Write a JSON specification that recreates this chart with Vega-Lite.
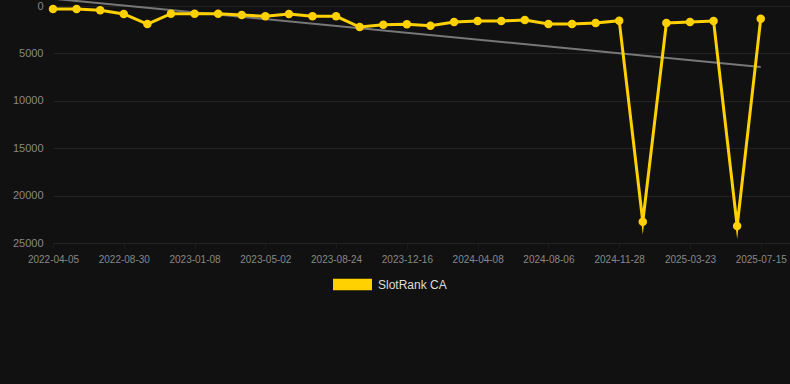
{
  "$schema": "https://vega.github.io/schema/vega-lite/v6.json",
  "autosize": {"type": "none"},
  "padding": {"left": 53, "top": 6, "right": 0, "bottom": 141},
  "width": 737,
  "height": 237,
  "background": "#111111",
  "config": {
    "view": {"stroke": null},
    "font": "Liberation Sans",
    "axis": {"gridColor": "#222222", "domain": false, "labelColor": "#888888", "labelFont": "Liberation Sans", "tickColor": "#222222"}
  },
  "datasets": {
    "rank": [
      {"date": "2022-04-05", "rank": 316, "series": "SlotRank CA"},
      {"date": "2022-05-20", "rank": 316, "series": "SlotRank CA"},
      {"date": "2022-07-10", "rank": 450, "series": "SlotRank CA"},
      {"date": "2022-08-30", "rank": 840, "series": "SlotRank CA"},
      {"date": "2022-10-15", "rank": 1900, "series": "SlotRank CA"},
      {"date": "2022-11-25", "rank": 810, "series": "SlotRank CA"},
      {"date": "2023-01-08", "rank": 810, "series": "SlotRank CA"},
      {"date": "2023-02-15", "rank": 810, "series": "SlotRank CA"},
      {"date": "2023-03-25", "rank": 950, "series": "SlotRank CA"},
      {"date": "2023-05-02", "rank": 1090, "series": "SlotRank CA"},
      {"date": "2023-06-10", "rank": 840, "series": "SlotRank CA"},
      {"date": "2023-07-18", "rank": 1090, "series": "SlotRank CA"},
      {"date": "2023-08-24", "rank": 1090, "series": "SlotRank CA"},
      {"date": "2023-10-01", "rank": 2215, "series": "SlotRank CA"},
      {"date": "2023-11-08", "rank": 1970, "series": "SlotRank CA"},
      {"date": "2023-12-16", "rank": 1930, "series": "SlotRank CA"},
      {"date": "2024-01-24", "rank": 2080, "series": "SlotRank CA"},
      {"date": "2024-03-01", "rank": 1690, "series": "SlotRank CA"},
      {"date": "2024-04-08", "rank": 1580, "series": "SlotRank CA"},
      {"date": "2024-05-18", "rank": 1580, "series": "SlotRank CA"},
      {"date": "2024-06-26", "rank": 1480, "series": "SlotRank CA"},
      {"date": "2024-08-06", "rank": 1900, "series": "SlotRank CA"},
      {"date": "2024-09-12", "rank": 1900, "series": "SlotRank CA"},
      {"date": "2024-10-20", "rank": 1790, "series": "SlotRank CA"},
      {"date": "2024-11-28", "rank": 1550, "series": "SlotRank CA"},
      {"date": "2025-01-05", "rank": 22750, "series": "SlotRank CA"},
      {"date": "2025-02-13", "rank": 1790, "series": "SlotRank CA"},
      {"date": "2025-03-23", "rank": 1690, "series": "SlotRank CA"},
      {"date": "2025-04-30", "rank": 1580, "series": "SlotRank CA"},
      {"date": "2025-06-07", "rank": 23200, "series": "SlotRank CA"},
      {"date": "2025-07-15", "rank": 1340, "series": "SlotRank CA"}
    ],
    "trend": [
      {"date": "2022-04-05", "rank": -770},
      {"date": "2025-07-15", "rank": 6435}
    ]
  },
  "encoding": {
    "x": {
      "field": "date", "type": "ordinal", "sort": null,
      "scale": {"type": "point", "padding": 0.62, "align": 0,
        "domain": ["2022-04-05","2022-05-20","2022-07-10","2022-08-30","2022-10-15","2022-11-25","2023-01-08","2023-02-15","2023-03-25","2023-05-02","2023-06-10","2023-07-18","2023-08-24","2023-10-01","2023-11-08","2023-12-16","2024-01-24","2024-03-01","2024-04-08","2024-05-18","2024-06-26","2024-08-06","2024-09-12","2024-10-20","2024-11-28","2025-01-05","2025-02-13","2025-03-23","2025-04-30","2025-06-07","2025-07-15"]},
      "axis": {
        "title": null, "labelAngle": 0, "labelFontSize": 10, "labelPadding": 6, "tickSize": 5, "gridColor": "#1c1c1c", "tickColor": "#1c1c1c",
        "values": ["2022-04-05","2022-08-30","2023-01-08","2023-05-02","2023-08-24","2023-12-16","2024-04-08","2024-08-06","2024-11-28","2025-03-23","2025-07-15"]
      }
    },
    "y": {
      "field": "rank", "type": "quantitative",
      "scale": {"domain": [0, 25000], "reverse": true, "nice": false, "zero": false},
      "axis": {"title": null, "values": [0, 5000, 10000, 15000, 20000, 25000], "format": "d", "labelFontSize": 11, "labelPadding": 10, "ticks": false}
    }
  },
  "layer": [
    {
      "data": {"name": "trend"},
      "mark": {"type": "line", "color": "#777777", "strokeWidth": 2, "clip": false},
      "encoding": {}
    },
    {
      "data": {"name": "rank"},
      "mark": {"type": "line", "strokeWidth": 3, "strokeJoin": "miter", "strokeMiterLimit": 10},
      "encoding": {
        "color": {"field": "series", "type": "nominal", "scale": {"range": ["#FFD100"]},
          "legend": {"orient": "none", "legendX": 280, "legendY": 259, "title": null, "symbolType": "M-1,-0.3H1V0.3H-1Z", "symbolSize": 1521, "symbolFillColor": "#FFD100", "symbolStrokeWidth": 0, "labelColor": "#dddddd", "labelFontSize": 12, "labelFont": "Liberation Sans", "labelOffset": 6}}
      }
    },
    {
      "data": {"name": "rank"},
      "mark": {"type": "point", "filled": true, "size": 72, "opacity": 1},
      "encoding": {
        "color": {"field": "series", "type": "nominal"}
      }
    }
  ]
}
